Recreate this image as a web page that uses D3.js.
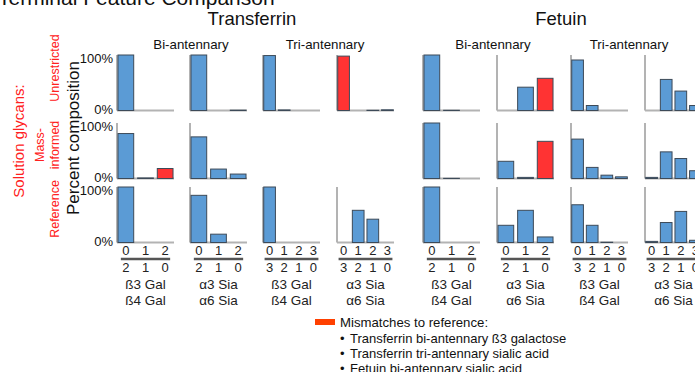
<!DOCTYPE html>
<html>
<head>
<meta charset="utf-8">
<script src="https://cdn.jsdelivr.net/npm/d3@7"></script>
<style>
  html, body { margin: 0; padding: 0; background: #fff; }
  svg { display: block; font-family: "Liberation Sans", Arial, sans-serif; }
</style>
</head>
<body>
<svg id="chart" width="695" height="372"></svg>
<script>
// ---- data ----
const proteins = ["Transferrin", "Fetuin"];
const antennarity = ["Bi-antennary", "Tri-antennary"];
const galFeatures = ["ß3 Gal", "ß4 Gal"];
const siaFeatures = ["α3 Sia", "α6 Sia"];
const rowNames = ["Unrestricted", "Mass-\ninformed", "Reference"];
const yTickValues = [0, 100];
const legendTitle = "Mismatches to reference:";
const legendItems = [
  "Transferrin bi-antennary ß3 galactose",
  "Transferrin tri-antennary sialic acid",
  "Fetuin bi-antennary sialic acid"
];

// percent composition per panel (Tf bi Gal, Tf bi Sia, Tf tri Gal, Tf tri Sia,
// Fet bi Gal, Fet bi Sia, Fet tri Gal, Fet tri Sia); null = not computed
const unrestricted = [
  [100, 0, 0], [100, 0, 0.6], [99, 1, 0, 0], [98, 0, 0.4, 1.2],
  [100, 0.4, 0], [0, 42, 58], [91, 9, 0, 0], [0, 56, 35, 9]
];
const massInformed = [
  [81, 1, 18], [75, 17, 8], null, null,
  [100, 0.3, 0], [31, 2, 67], [71, 20, 6, 3], [2, 48, 36, 14]
];
const reference = [
  [100, 0, 0], [85, 15, 0], [100, 0, 0, 0], [0, 58, 42, 0],
  [100, 0, 0], [31, 58, 10], [68, 31, 0.5, 0], [2, 36, 56, 4]
];
const rows = [unrestricted, massInformed, reference];

// bars that disagree with the reference: [row, panel, bar]
const mismatches = [[0, 3, 0], [0, 5, 2], [1, 0, 2], [1, 5, 2]];

// ---- layout ----
const svg = d3.select("#chart");
const font = "Liberation Sans, Arial, sans-serif";
const panelW = 57;
const panelH = 55.5;
const rowTops = [55, 123, 187];
const panelLeft = [117, 190, 263, 337, 423, 497, 571, 645];
const blue = "#5b9bd5", red = "#ff3333", barStroke = "#3d4a58";
const axisGray = "#b3b3b3";

// title
svg.append("text").attr("x", -2).attr("y", 5)
  .attr("font-size", 21).attr("fill", "#111")
  .text("Terminal Feature Comparison");

// protein headers
const proteinCenters = [252, 561];
proteins.forEach((p, i) => {
  svg.append("text").attr("x", proteinCenters[i]).attr("y", 25)
    .attr("text-anchor", "middle").attr("font-size", 18.5).attr("fill", "#111")
    .text(p);
});

// antennarity headers
const antCenters = [191, 325, 493, 629];
antCenters.forEach((cx, i) => {
  svg.append("text").attr("x", cx).attr("y", 49)
    .attr("text-anchor", "middle").attr("font-size", 13.3).attr("fill", "#111")
    .text(antennarity[i % 2]);
});

// side labels (rotated)
function vtext(x, y, txt, size, color) {
  return svg.append("text")
    .attr("transform", `translate(${x},${y}) rotate(-90)`)
    .attr("text-anchor", "middle").attr("font-size", size).attr("fill", color)
    .text(txt);
}
vtext(24, 141, "Solution glycans:", 15, "#ff2020");
vtext(79, 138, "Percent composition", 17, "#111");
vtext(59, 68, rowNames[0], 12.5, "#ff2020");
const mi = rowNames[1].split("\n");
vtext(44, 145, mi[0], 12.5, "#ff2020");
vtext(59, 145, mi[1], 12.5, "#ff2020");
vtext(59, 209, rowNames[2], 12.5, "#ff2020");

// panels
const isMismatch = (r, c, b) => mismatches.some(m => m[0] === r && m[1] === c && m[2] === b);

rows.forEach((rowData, r) => {
  const top = rowTops[r];
  const y = d3.scaleLinear().domain([0, 100]).range([top + panelH, top]);

  rowData.forEach((vals, c) => {
    if (!vals) return;
    const x0 = panelLeft[c];
    const x = d3.scaleBand().domain(d3.range(vals.length))
      .range([x0, x0 + panelW]).paddingInner(0.2).paddingOuter(0.05);
    const g = svg.append("g");

    // axis lines
    g.append("line").attr("x1", x0).attr("x2", x0)
      .attr("y1", y(100)).attr("y2", y(0))
      .attr("stroke", axisGray).attr("stroke-width", 2);
    g.append("line").attr("x1", x0).attr("x2", x0 + panelW)
      .attr("y1", y(0)).attr("y2", y(0))
      .attr("stroke", axisGray).attr("stroke-width", 2);

    // bars
    g.selectAll("rect").data(vals).join("rect")
      .attr("x", (d, i) => x(i))
      .attr("width", x.bandwidth())
      .attr("y", d => y(d))
      .attr("height", d => y(0) - y(d))
      .attr("fill", (d, i) => isMismatch(r, c, i) ? red : blue)
      .attr("stroke", barStroke).attr("stroke-width", d => d > 0 ? 1 : 0);

    // y tick labels on first panel of each row
    if (c === 0) {
      const ax = svg.append("g")
        .attr("transform", `translate(${x0 - 1},0)`)
        .call(d3.axisLeft(y).tickValues(yTickValues).tickSize(0).tickFormat(d => d + "%"));
      ax.select(".domain").remove();
      ax.selectAll("text")
        .attr("font-family", font).attr("font-size", 13).attr("fill", "#111")
        .attr("dx", 0)
        .attr("dy", d => d === 100 ? "0.55em" : "0.25em");
    }

    // category labels below bottom row
    if (r === rows.length - 1) {
      const n = vals.length;
      const lab = svg.append("g").attr("font-size", 13).attr("fill", "#222")
        .attr("text-anchor", "middle");
      d3.range(n).forEach(i => {
        const cx = x(i) + x.bandwidth() / 2;
        lab.append("text").attr("x", cx).attr("y", 255).text(i);
        lab.append("text").attr("x", cx).attr("y", 272).text(n - 1 - i);
      });
      const c1 = x(0) + x.bandwidth() / 2, c2 = x(n - 1) + x.bandwidth() / 2;
      svg.append("line").attr("x1", c1 - 5).attr("x2", c2 + 5)
        .attr("y1", 259).attr("y2", 259)
        .attr("stroke", "#555").attr("stroke-width", 2.5);
      const feats = c % 2 === 0 ? galFeatures : siaFeatures;
      const cx = x0 + panelW / 2;
      lab.append("text").attr("x", cx).attr("y", 289).attr("font-size", 13.5).text(feats[0]);
      lab.append("text").attr("x", cx).attr("y", 305).attr("font-size", 13.5).text(feats[1]);
    }
  });
});

// legend
svg.append("rect").attr("x", 315).attr("y", 319).attr("width", 20).attr("height", 6)
  .attr("fill", "#ff4000");
svg.append("text").attr("x", 340).attr("y", 327).attr("font-size", 13.2).attr("fill", "#111")
  .text(legendTitle);
legendItems.forEach((t, i) => {
  const yy = 342.5 + i * 15.3;
  svg.append("text").attr("x", 340).attr("y", yy).attr("font-size", 13).attr("fill", "#111")
    .text("•");
  svg.append("text").attr("x", 350).attr("y", yy).attr("font-size", 13).attr("fill", "#111")
    .text(t);
});
</script>
</body>
</html>
